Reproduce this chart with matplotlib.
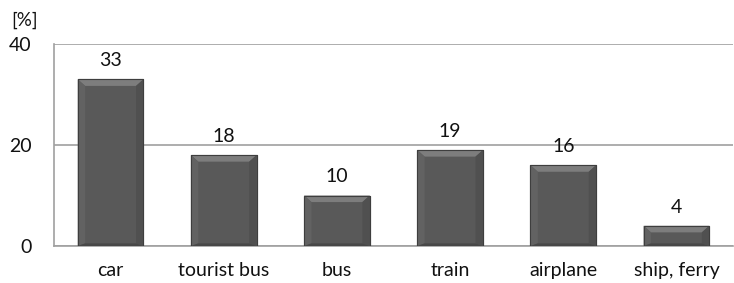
import numpy as np
from matplotlib import pyplot as plt
from matplotlib.patches import Polygon

categories = ["car", "tourist bus", "bus", "train", "airplane", "ship, ferry"]
values = [33, 18, 10, 19, 16, 4]
yticks = [0, 20, 40]

plt.rcParams['font.family'] = ['Lato', 'DejaVu Sans']

fig = plt.figure(figsize=(7.34, 2.83), dpi=100)
ax = fig.add_axes([54 / 734, 37 / 283, 679 / 734, 202 / 283])

x = np.arange(len(categories))
width = 0.58
bars = ax.bar(x, values, width=width, color="#595959", edgecolor="#3e3e3e",
              linewidth=0.8, zorder=3)

# bevel highlights, derived from bar geometry
bev_x = 0.065
bev_y = 1.3
for b in bars:
    x0, w, h = b.get_x(), b.get_width(), b.get_height()
    x1 = x0 + w
    top = Polygon([(x0, h), (x1, h), (x1 - bev_x, h - bev_y), (x0 + bev_x, h - bev_y)],
                  closed=True, color="#7d7d7d", zorder=4, lw=0)
    left = Polygon([(x0, 0), (x0, h), (x0 + bev_x, h - bev_y), (x0 + bev_x, bev_y * 0.4)],
                   closed=True, color="#626262", zorder=4, lw=0)
    right = Polygon([(x1, 0), (x1, h), (x1 - bev_x, h - bev_y), (x1 - bev_x, bev_y * 0.4)],
                    closed=True, color="#505050", zorder=4, lw=0)
    bottom = Polygon([(x0, 0), (x1, 0), (x1 - bev_x, bev_y * 0.4), (x0 + bev_x, bev_y * 0.4)],
                     closed=True, color="#484848", zorder=4, lw=0)
    for p in (top, left, right, bottom):
        ax.add_patch(p)
    ax.add_patch(Polygon([(x0, 0), (x0, h), (x1, h), (x1, 0)], closed=True,
                         fill=False, edgecolor="#3e3e3e", lw=0.8, zorder=5))
    ax.text(x0 + w / 2, h + 2.0, f"{h:g}", ha="center", va="bottom",
            fontsize=14, color="#111111", zorder=5)

ax.set_xlim(-0.5, len(categories) - 0.5)
ax.set_ylim(0, 40)
ax.set_yticks(yticks)
ax.set_xticks(x)
ax.set_xticklabels(categories, fontsize=14, color="#111111")
ax.tick_params(axis="y", labelsize=14, colors="#111111", length=0, pad=16)
ax.tick_params(axis="x", length=0, pad=11.5)
ax.grid(axis="y", color="#a0a0a0", linewidth=1.2, zorder=0)
for s in ["top", "right"]:
    ax.spines[s].set_visible(False)
ax.spines["left"].set_color("#a0a0a0")
ax.spines["left"].set_linewidth(1.2)
ax.spines["bottom"].set_color("#a0a0a0")
ax.spines["bottom"].set_linewidth(1.2)

fig.text(11 / 734, 1 - 20 / 283, "[%]", fontsize=13.5, va="center", ha="left", color="#111111")

fig.savefig("out.png", dpi=100)
